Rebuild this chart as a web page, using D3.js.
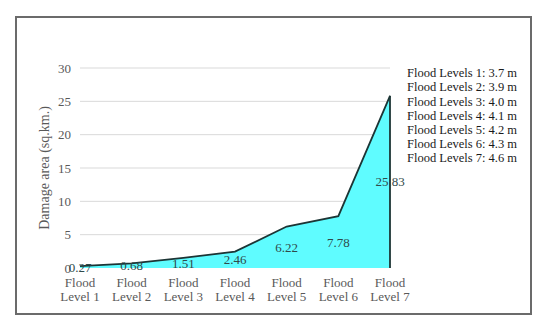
<!DOCTYPE html>
<html>
<head>
<meta charset="utf-8">
<script src="https://cdn.jsdelivr.net/npm/d3@7"></script>
<style>
  body { margin: 0; background: #fff; }
  text { font-family: "Liberation Serif", "Times New Roman", serif; }
</style>
</head>
<body>
<svg width="550" height="328"></svg>
<script>
// chart data
const categories = ['Flood Level 1', 'Flood Level 2', 'Flood Level 3', 'Flood Level 4',
  'Flood Level 5', 'Flood Level 6', 'Flood Level 7'];
const damageArea = [0.27, 0.68, 1.51, 2.46, 6.22, 7.78, 25.83];
const yTicks = [0, 5, 10, 15, 20, 25, 30];
const legendLines = ['Flood Levels 1: 3.7 m', 'Flood Levels 2: 3.9 m', 'Flood Levels 3: 4.0 m',
  'Flood Levels 4: 4.1 m', 'Flood Levels 5: 4.2 m', 'Flood Levels 6: 4.3 m', 'Flood Levels 7: 4.6 m'];

const data = categories.map((c, i) => ({ cat: c, value: damageArea[i] }));

const svg = d3.select('svg');

// outer frame
svg.append('rect')
  .attr('x', 16).attr('y', 17)
  .attr('width', 515).attr('height', 297)
  .attr('fill', '#fff')
  .attr('stroke', '#6b6b6b')
  .attr('stroke-width', 2);

const x = d3.scalePoint().domain(categories).range([80, 390]);
const y = d3.scaleLinear().domain([0, 30]).range([268, 68]);

// gridlines
svg.append('g')
  .selectAll('line')
  .data(yTicks.filter((d) => d > 0))
  .join('line')
  .attr('x1', 80).attr('x2', 390)
  .attr('y1', (d) => y(d)).attr('y2', (d) => y(d))
  .attr('stroke', '#d9d9d9')
  .attr('stroke-width', 1);

// y tick labels
svg.append('g')
  .selectAll('text')
  .data(yTicks)
  .join('text')
  .attr('x', 71)
  .attr('y', (d) => y(d))
  .attr('dy', '0.35em')
  .attr('text-anchor', 'end')
  .attr('fill', '#595959')
  .style('font-size', '13px')
  .text((d) => d);

// y axis title
svg.append('text')
  .attr('transform', 'translate(49,168) rotate(-90)')
  .attr('text-anchor', 'middle')
  .attr('fill', '#595959')
  .style('font-size', '14px')
  .text('Damage area (sq.km.)');

// area fill
const area = d3.area()
  .x((d) => x(d.cat))
  .y0(y(0))
  .y1((d) => y(d.value));

svg.append('path')
  .datum(data)
  .attr('d', area)
  .attr('fill', '#5ffcff');

// outline line along top and right edge
const last = data[data.length - 1];
svg.append('path')
  .datum(data)
  .attr('d', d3.line().x((d) => x(d.cat)).y((d) => y(d.value)))
  .attr('fill', 'none')
  .attr('stroke', '#1c3535')
  .attr('stroke-width', 1.8);

svg.append('line')
  .attr('x1', x(last.cat)).attr('x2', x(last.cat))
  .attr('y1', y(last.value)).attr('y2', y(0))
  .attr('stroke', '#1c3535')
  .attr('stroke-width', 1.8);

// data labels centered in area
svg.append('g')
  .selectAll('text')
  .data(data)
  .join('text')
  .attr('x', (d) => x(d.cat))
  .attr('y', (d) => y(d.value / 2))
  .attr('dy', '0.35em')
  .attr('text-anchor', 'middle')
  .attr('fill', '#2f4a4a')
  .style('font-size', '13px')
  .text((d) => d.value.toFixed(2));

// x category labels (two lines)
const xl = svg.append('g')
  .selectAll('text')
  .data(categories)
  .join('text')
  .attr('x', (d) => x(d))
  .attr('y', 287)
  .attr('text-anchor', 'middle')
  .attr('fill', '#595959')
  .style('font-size', '13px');

xl.append('tspan')
  .attr('x', (d) => x(d))
  .text((d) => d.split(' ')[0]);
xl.append('tspan')
  .attr('x', (d) => x(d))
  .attr('dy', 14)
  .text((d) => d.split(' ').slice(1).join(' '));

// legend text
svg.append('g')
  .selectAll('text')
  .data(legendLines)
  .join('text')
  .attr('x', 407)
  .attr('y', (d, i) => 73 + i * 14.1)
  .attr('dy', '0.35em')
  .attr('fill', '#1a1a1a')
  .style('font-size', '12.5px')
  .text((d) => d);
</script>
</body>
</html>
